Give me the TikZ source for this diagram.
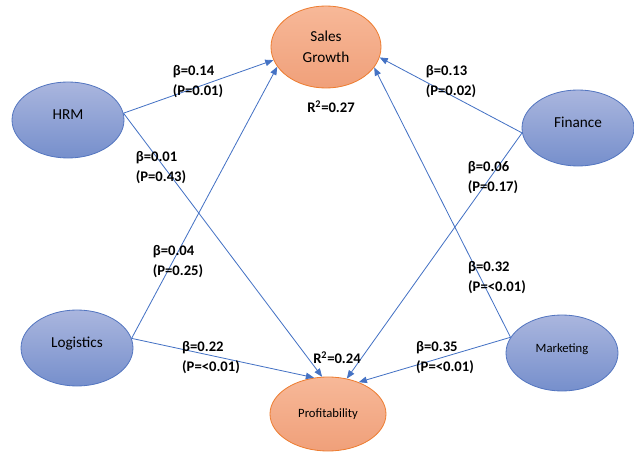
\documentclass[tikz,border=0pt]{standalone}
\usepackage{fontspec}
\setmainfont{Carlito}
\usepackage{tikz}
\usetikzlibrary{shapes.geometric,arrows.meta}

\definecolor{pathblue}{RGB}{68,114,196}
\definecolor{factortop}{RGB}{170,182,222}
\definecolor{factorbot}{RGB}{118,143,204}
\definecolor{factorline}{RGB}{84,118,192}
\definecolor{outtop}{RGB}{247,184,152}
\definecolor{outbot}{RGB}{240,160,122}
\definecolor{outline}{RGB}{237,125,49}

\begin{document}
\begin{tikzpicture}[x=0.03cm,y=-0.03cm,
    factor/.style={ellipse, draw=factorline, line width=0.7pt, top color=factortop, bottom color=factorbot,
      minimum width=3.36cm, minimum height=2.28cm, inner sep=0pt, text height=9pt, text depth=9pt,
      font=\fontsize{13}{16}\selectfont},
    outcome/.style={ellipse, draw=outline, line width=0.7pt, top color=outtop, bottom color=outbot,
      inner sep=0pt, align=center},
    effect/.style={draw=pathblue, line width=0.7pt, -{Triangle[length=7pt,width=5.5pt]}},
    coef/.style={align=left, inner sep=0pt, font=\bfseries\fontsize{12.5}{17}\selectfont}]
				\useasboundingbox (0,0) rectangle (634,452);
				
				% outcomes
				\node[outcome, minimum width=3.3cm, minimum height=2.46cm, font=\fontsize{13}{18}\selectfont] (sales) at (326,47) {Sales\\Growth};
				\node[outcome, minimum width=3.48cm, minimum height=2.22cm, font=\fontsize{10.8}{13}\selectfont] (profit) at (328,414) {Profitability};
				
				% factors
				\node[factor] (hrm) at (68,120) {HRM};
				\node[factor] (logistics) at (77,348) {Logistics};
				\node[factor] (finance) at (578,128) {Finance};
				\node[factor, font=\fontsize{10.8}{13}\selectfont, text height=8pt] (marketing) at (562,353) {Marketing};
				
				% paths
				\draw[effect] (hrm.7) -- (sales.194);
				\draw[effect] (hrm.7) -- (profit.99);
				\draw[effect] (logistics.10) -- (sales.202);
				\draw[effect] (logistics.10) -- (profit.111);
				\draw[effect] (finance.185) -- (sales.349);
				\draw[effect] (finance.185) -- (profit.62);
				\draw[effect] (marketing.163) -- (sales.337);
				\draw[effect] (marketing.163) -- (profit.46);
				
				% coefficients
				\node[coef] (c1) at (198,82) {β=0.14\\(P=0.01)};
				\node[coef] (c2) at (161,168) {β=0.01\\(P=0.43)};
				\node[coef] (c3) at (178,262) {β=0.04\\(P=0.25)};
				\node[coef] (c4) at (211,358) {β=0.22\\(P=<0.01)};
				\node[coef] (c5) at (451,82) {β=0.13\\(P=0.02)};
				\node[coef] (c6) at (493,178) {β=0.06\\(P=0.17)};
				\node[coef] (c7) at (497,278) {β=0.32\\(P=<0.01)};
				\node[coef] (c8) at (445,358) {β=0.35\\(P=<0.01)};
				\node[coef] (r1) at (331,107) {R\textsuperscript{2}=0.27};
				\node[coef] (r2) at (337,358) {R\textsuperscript{2}=0.24};
			\end{tikzpicture}
\end{document}
